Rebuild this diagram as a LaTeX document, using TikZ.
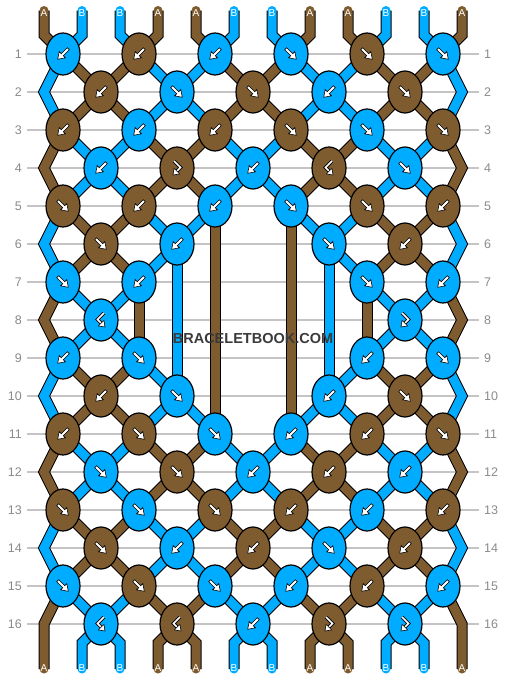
\documentclass[tikz,border=0pt]{standalone}
\usepackage{fontspec}
\setmainfont{Liberation Sans}
\usetikzlibrary{shapes.geometric,backgrounds}
\definecolor{cA}{HTML}{7F5C30}
\definecolor{cB}{HTML}{00ACFF}
\definecolor{gridgray}{HTML}{C4C4C4}
\definecolor{lblgray}{HTML}{8A8A8A}
\definecolor{wmgray}{HTML}{3A3A3A}
\newcommand\hookshape{%
  \draw[black, line width=3.4pt] (-3,-7) -- (3.5,-0.5) -- (-0.1,3.1);
  \draw[white, line width=1.6pt] (-3,-7) -- (3.5,-0.5) -- (-0.1,3.1);
  \filldraw[arrw] (-4,7) -- (2.72,5.94) -- (-2.94,0.28) -- cycle;}
\tikzset{
  knot/.style={ellipse, draw=black, line width=1.2pt, minimum width=34pt, minimum height=42pt, inner sep=0pt},
  sA/.style={draw=cA, line width=9pt, preaction={draw=black, line width=11pt}},
  sB/.style={draw=cB, line width=9pt, preaction={draw=black, line width=11pt}},
  gridln/.style={draw=gridgray, line width=1.1pt},
  rowlbl/.style={text=lblgray, font=\fontsize{12.5}{14}\selectfont, inner sep=0pt},
  strlbl/.style={text=white, font=\fontsize{10}{12}\selectfont, inner sep=0pt},
  wmark/.style={text=wmgray, font=\fontsize{14.5}{16}\selectfont\bfseries, inner sep=1pt},
  arrw/.style={fill=white, draw=black, line width=0.6pt},
  fw/.pic={\filldraw[arrw, rotate=-45] (-7.5,-1.4) -- (1,-1.4) -- (1,-4.4) -- (7.5,0) -- (1,4.4) -- (1,1.4) -- (-7.5,1.4) -- cycle;},
  bw/.pic={\filldraw[arrw, rotate=-135] (-7.5,-1.4) -- (1,-1.4) -- (1,-4.4) -- (7.5,0) -- (1,4.4) -- (1,1.4) -- (-7.5,1.4) -- cycle;},
  fb/.pic={\hookshape},
  bf/.pic={\begin{scope}[xscale=-1]\hookshape\end{scope}},
}
\begin{document}
\begin{tikzpicture}[x=1pt,y=-1pt]
\useasboundingbox (0,0) rectangle (506,680);
% knots
\foreach \r/\j/\c/\t in {
  1/0/cB/bw, 1/2/cA/bw, 1/4/cB/bw, 1/6/cB/fw, 1/8/cA/fw, 1/10/cB/fw,
  2/1/cA/bw, 2/3/cB/fw, 2/5/cA/fw, 2/7/cB/bw, 2/9/cA/fw,
  3/0/cA/bw, 3/2/cB/bw, 3/4/cA/bw, 3/6/cA/fw, 3/8/cB/fw, 3/10/cA/fw,
  4/1/cB/bw, 4/3/cA/fb, 4/5/cB/bw, 4/7/cA/bf, 4/9/cB/fw,
  5/0/cA/fw, 5/2/cA/bw, 5/4/cB/bw, 5/6/cB/fw, 5/8/cA/fw, 5/10/cA/bw,
  6/1/cA/fw, 6/3/cB/bw, 6/7/cB/fw, 6/9/cA/bw,
  7/0/cB/fw, 7/2/cB/bw, 7/8/cB/fw, 7/10/cB/bw,
  8/1/cB/bf, 8/9/cB/fb,
  9/0/cB/bw, 9/2/cB/fw, 9/8/cB/bw, 9/10/cB/fw,
  10/1/cA/bw, 10/3/cB/fw, 10/7/cB/bw, 10/9/cA/fw,
  11/0/cA/bw, 11/2/cA/fw, 11/4/cB/fw, 11/6/cB/bw, 11/8/cA/bw, 11/10/cA/fw,
  12/1/cB/fw, 12/3/cA/fw, 12/5/cB/bw, 12/7/cA/bw, 12/9/cB/bw,
  13/0/cA/fw, 13/2/cB/fw, 13/4/cA/fw, 13/6/cA/bw, 13/8/cB/bw, 13/10/cA/bw,
  14/1/cA/fw, 14/3/cB/bw, 14/5/cA/bw, 14/7/cB/fw, 14/9/cA/bw,
  15/0/cB/fw, 15/2/cA/fw, 15/4/cB/fw, 15/6/cB/bw, 15/8/cA/bw, 15/10/cB/bw,
  16/1/cB/bf, 16/3/cA/bf, 16/5/cB/bw, 16/7/cA/fb, 16/9/cB/fb} {
  \node[knot, fill=\c] (k\r-\j) at ({63+38*\j},{54+38*(\r-1)}) {};
  \pic at (k\r-\j) {\t};
}
% string ends and edge turns
\foreach \p in {0,...,11} {
  \coordinate (t\p) at ({44+38*\p},10.5);
  \coordinate (tb\p) at ({44+38*\p},35);
  \coordinate (bb\p) at ({44+38*\p},643);
  \coordinate (be\p) at ({44+38*\p},669);
}
\foreach \r in {2,4,...,16} {
  \coordinate (eL\r) at (44,{54+38*(\r-1)});
  \coordinate (eR\r) at (462,{54+38*(\r-1)});
}
\begin{scope}[on background layer]
% row lines
\foreach \r in {1,...,16}
  \draw[gridln] (27,{54+38*(\r-1)}) -- (479,{54+38*(\r-1)});
% brown strands
\foreach \a/\b in {
  1-0/2-1, 1-2/2-1, 1-4/2-5, 1-6/2-5, 1-8/2-9, 1-10/2-9,
  2-1/3-0, 2-1/3-2, 2-5/3-4, 2-5/3-6, 2-9/3-8, 2-9/3-10,
  3-2/4-3, 3-4/4-3, 3-6/4-7, 3-8/4-7,
  4-3/5-2, 4-3/5-4, 4-7/5-6, 4-7/5-8,
  5-0/6-1, 5-2/6-1, 5-8/6-9, 5-10/6-9,
  6-1/7-0, 6-1/7-2, 6-9/7-8, 6-9/7-10,
  9-0/10-1, 9-2/10-1, 9-8/10-9, 9-10/10-9,
  10-1/11-0, 10-1/11-2, 10-9/11-8, 10-9/11-10,
  11-2/12-3, 11-4/12-3, 11-6/12-7, 11-8/12-7,
  12-3/13-2, 12-3/13-4, 12-7/13-6, 12-7/13-8,
  13-0/14-1, 13-2/14-1, 13-4/14-5, 13-6/14-5, 13-8/14-9, 13-10/14-9,
  14-1/15-0, 14-1/15-2, 14-5/15-4, 14-5/15-6, 14-9/15-8, 14-9/15-10,
  15-2/16-3, 15-4/16-3, 15-6/16-7, 15-8/16-7,
  7-2/9-2, 5-4/11-4, 5-6/11-6, 7-8/9-8}
  \draw[sA] (k\a.center) -- (k\b.center);
% blue strands
\foreach \a/\b in {
  1-2/2-3, 1-4/2-3, 1-6/2-7, 1-8/2-7,
  2-3/3-2, 2-3/3-4, 2-7/3-6, 2-7/3-8,
  3-0/4-1, 3-2/4-1, 3-4/4-5, 3-6/4-5, 3-8/4-9, 3-10/4-9,
  4-1/5-0, 4-1/5-2, 4-5/5-4, 4-5/5-6, 4-9/5-8, 4-9/5-10,
  5-2/6-3, 5-4/6-3, 5-6/6-7, 5-8/6-7,
  6-3/7-2, 6-7/7-8,
  7-0/8-1, 7-2/8-1, 7-8/8-9, 7-10/8-9,
  8-1/9-0, 8-1/9-2, 8-9/9-8, 8-9/9-10,
  9-2/10-3, 9-8/10-7,
  10-3/11-2, 10-3/11-4, 10-7/11-6, 10-7/11-8,
  11-0/12-1, 11-2/12-1, 11-4/12-5, 11-6/12-5, 11-8/12-9, 11-10/12-9,
  12-1/13-0, 12-1/13-2, 12-5/13-4, 12-5/13-6, 12-9/13-8, 12-9/13-10,
  13-2/14-3, 13-4/14-3, 13-6/14-7, 13-8/14-7,
  14-3/15-2, 14-3/15-4, 14-7/15-6, 14-7/15-8,
  15-0/16-1, 15-2/16-1, 15-4/16-5, 15-6/16-5, 15-8/16-9, 15-10/16-9,
  6-3/10-3, 6-7/10-7}
  \draw[sB] (k\a.center) -- (k\b.center);
% edge strands
\foreach \a/\e/\b/\c in {
  1-0/eL2/3-0/B, 3-0/eL4/5-0/A, 5-0/eL6/7-0/B, 7-0/eL8/9-0/A,
  9-0/eL10/11-0/B, 11-0/eL12/13-0/A, 13-0/eL14/15-0/B,
  1-10/eR2/3-10/B, 3-10/eR4/5-10/A, 5-10/eR6/7-10/B, 7-10/eR8/9-10/A,
  9-10/eR10/11-10/B, 11-10/eR12/13-10/A, 13-10/eR14/15-10/B}
  \draw[s\c] (k\a.center) -- (\e) -- (k\b.center);
% top and bottom strings
\foreach \p/\c/\k in {0/A/1-0, 1/B/1-0, 2/B/1-2, 3/A/1-2, 4/A/1-4, 5/B/1-4,
  6/B/1-6, 7/A/1-6, 8/A/1-8, 9/B/1-8, 10/B/1-10, 11/A/1-10}
  \draw[s\c, line cap=round] (t\p) -- (tb\p) -- (k\k.center);
\foreach \p/\c/\k in {1/B/16-1, 2/B/16-1, 3/A/16-3, 4/A/16-3, 5/B/16-5,
  6/B/16-5, 7/A/16-7, 8/A/16-7, 9/B/16-9, 10/B/16-9}
  \draw[s\c, line cap=round] (k\k.center) -- (bb\p) -- (be\p);
\draw[sA, line cap=round] (k15-0.center) -- (eL16) -- (be0);
\draw[sA, line cap=round] (k15-10.center) -- (eR16) -- (be11);
\end{scope}
% labels
\foreach \r in {1,...,16} {
  \node[rowlbl, anchor=east] (rl\r) at (22,{54+38*(\r-1)}) {\r};
  \node[rowlbl, anchor=west] (rr\r) at (484,{54+38*(\r-1)}) {\r};
}
\foreach \p/\s in {0/A,1/B,2/B,3/A,4/A,5/B,6/B,7/A,8/A,9/B,10/B,11/A} {
  \node[strlbl] (lt\p) at ({44+38*\p},13) {\s};
  \node[strlbl] (lb\p) at ({44+38*\p},668) {\s};
}
\node[wmark] (wm) at (253,339) {BRACELETBOOK.COM};
\end{tikzpicture}
\end{document}
